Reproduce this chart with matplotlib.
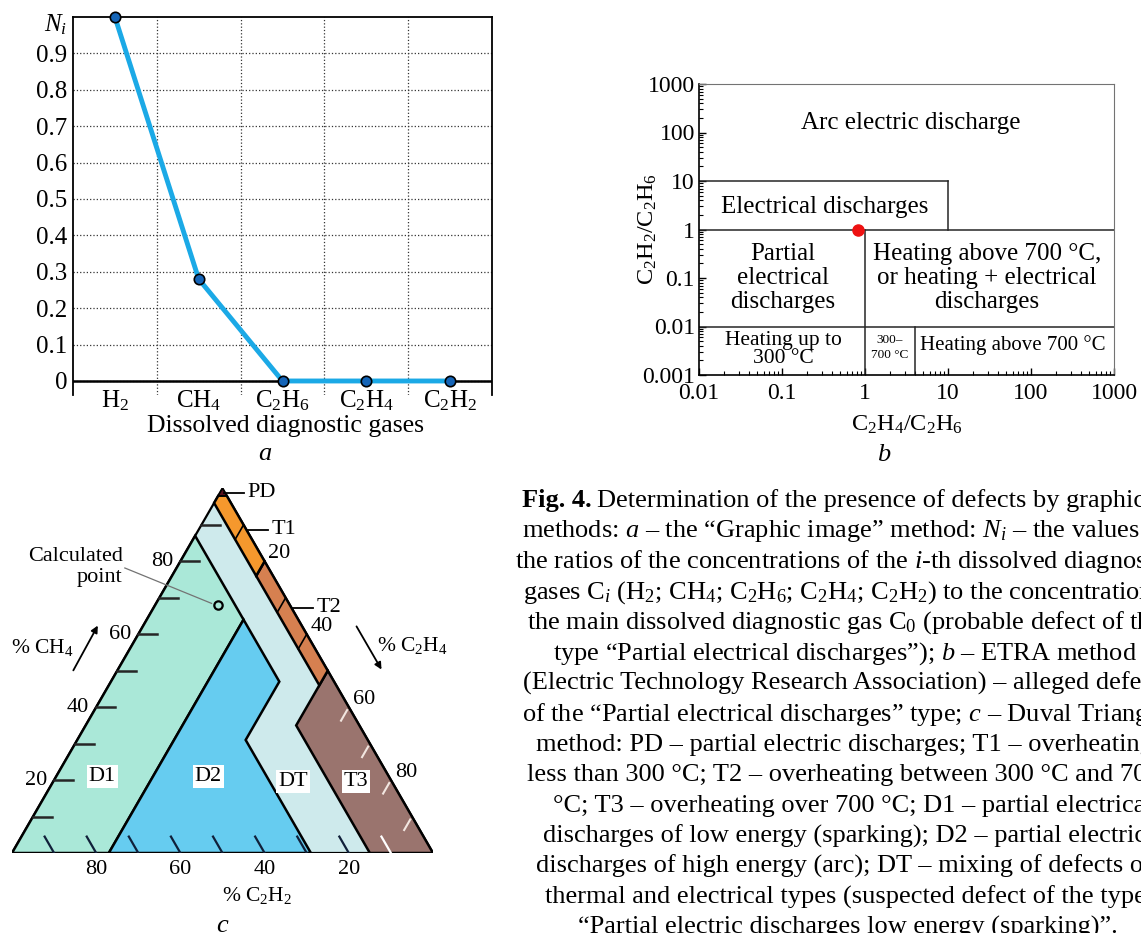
import numpy as np
import matplotlib.pyplot as plt

plt.rcParams['font.family'] = 'Liberation Serif'
plt.rcParams['mathtext.fontset'] = 'custom'
plt.rcParams['mathtext.rm'] = 'Liberation Serif'
plt.rcParams['mathtext.it'] = 'Liberation Serif:italic'
plt.rcParams['mathtext.bf'] = 'Liberation Serif:bold'

W, H = 1141, 933

# --- panel a data: "Graphic image" method
gases = ['H$_2$', 'CH$_4$', 'C$_2$H$_6$', 'C$_2$H$_4$', 'C$_2$H$_2$']
ni_values = [1.0, 0.28, 0.0, 0.0, 0.0]
ni_ticks = [0, 0.1, 0.2, 0.3, 0.4, 0.5, 0.6, 0.7, 0.8, 0.9]
ni_labels = ['0', '0.1', '0.2', '0.3', '0.4', '0.5', '0.6', '0.7', '0.8', '0.9']

# --- panel b data: ETRA method
etra_ticks = [0.001, 0.01, 0.1, 1, 10, 100, 1000]
etra_labels = ['0.001', '0.01', '0.1', '1', '10', '100', '1000']
etra_bounds = [
    ([0.01, 10], [10, 10]),
    ([10, 10], [10, 1]),
    ([0.01, 1000], [1, 1]),
    ([1, 1], [1, 0.001]),
    ([0.01, 1000], [0.01, 0.01]),
    ([4, 4], [0.01, 0.001]),
]
etra_point_x = [0.82]
etra_point_y = [1.0]

# --- panel c data: Duval triangle zones, vertices as (CH4, C2H4, C2H2) %
zone_pd = [(100, 0, 0), (98, 2, 0), (98, 0, 2)]
zone_t1 = [(98, 2, 0), (80, 20, 0), (76, 20, 4), (96, 0, 4), (98, 0, 2)]
zone_t2 = [(80, 20, 0), (50, 50, 0), (46, 50, 4), (76, 20, 4)]
zone_t3 = [(50, 50, 0), (0, 100, 0), (0, 85, 15), (35, 50, 15)]
zone_d1 = [(0, 0, 100), (0, 23, 77), (64, 23, 13), (87, 0, 13)]
zone_d2 = [(0, 23, 77), (0, 71, 29), (31, 40, 29), (47, 40, 13), (64, 23, 13)]
calc_point = (68, 15, 17)
scale_ticks = [10, 20, 30, 40, 50, 60, 70, 80, 90]
scale_labels = [20, 40, 60, 80]

caption_head = 'Fig. 4.'
caption = [
    r'Determination of the presence of defects by graphical',
    r'methods: $a$ – the “Graphic image” method: $N_i$ – the values of',
    r'the ratios of the concentrations of the $i$-th dissolved diagnostic',
    r'gases C$_i$ (H$_2$; CH$_4$; C$_2$H$_6$; C$_2$H$_4$; C$_2$H$_2$) to the concentration of',
    r'the main dissolved diagnostic gas C$_0$ (probable defect of the',
    r'type “Partial electrical discharges”); $b$ – ETRA method',
    r'(Electric Technology Research Association) – alleged defect',
    r'of the “Partial electrical discharges” type; $c$ – Duval Triangle',
    r'method: PD – partial electric discharges; T1 – overheating',
    r'less than 300 °C; T2 – overheating between 300 °C and 700',
    r'°C; T3 – overheating over 700 °C; D1 – partial electrical',
    r'discharges of low energy (sparking); D2 – partial electrical',
    r'discharges of high energy (arc); DT – mixing of defects of',
    r'thermal and electrical types (suspected defect of the type',
    r'“Partial electric discharges low energy (sparking)”.',
]
caption_x = [522, 522, 515, 523, 527, 553, 523, 522, 536, 527, 553, 543, 536, 545, 578]

fig = plt.figure(figsize=(W / 100, H / 100), dpi=100)

# ================= panel a
axa = fig.add_axes([73 / W, 1 - 395 / H, 419 / W, 378 / H])
xs = np.arange(len(gases))
axa.plot(xs, ni_values, color='#1BA9E6', lw=3.5, zorder=3, clip_on=False)
axa.plot(xs, ni_values, 'o', ms=7.5, mfc='#1565B8', mec='black', mew=1.2,
         zorder=4, clip_on=False)
axa.set_xlim(-0.5, 4.5)
axa.set_ylim(-0.0385, 1.0)
axa.set_yticks(ni_ticks)
axa.set_yticklabels(ni_labels)
axa.set_xticks(xs)
axa.set_xticklabels(gases)
axa.set_xticks(np.arange(0.5, 4, 1), minor=True)
axa.grid(which='minor', axis='x', color='0.2', ls=':', lw=0.9)
axa.grid(which='major', axis='y', color='0.2', ls=':', lw=0.9)
axa.tick_params(which='both', length=0, labelsize=18)
axa.tick_params(axis='y', pad=4)
axa.tick_params(axis='x', pad=-5)
axa.spines['bottom'].set_visible(False)
for s in ['left', 'right', 'top']:
    axa.spines[s].set_linewidth(1.3)
axa.axhline(0, color='black', lw=1.8, zorder=2)
axa.text(-0.014, 0.978, '$N_i$', transform=axa.get_yaxis_transform(),
         ha='right', va='center', fontsize=18)
axa.text(0.506, -0.081, 'Dissolved diagnostic gases', transform=axa.transAxes,
         ha='center', va='center', fontsize=18.5)
fig.text(265 / W, 1 - 454 / H, 'a', style='italic', ha='center', va='center', fontsize=19)

# ================= panel b
axb = fig.add_axes([699 / W, 1 - 375 / H, 415 / W, 291 / H])
axb.set_xscale('log')
axb.set_yscale('log')
axb.set_xlim(0.01, 1000)
axb.set_ylim(0.001, 1000)
for bx, by in etra_bounds:
    axb.plot(bx, by, color='0.15', lw=1.1)
axb.plot(etra_point_x, etra_point_y, 'o', color='#EE1111', ms=8, zorder=5, clip_on=False)
axb.set_xticks(etra_ticks[1:])
axb.set_xticklabels(etra_labels[1:])
axb.set_yticks(etra_ticks)
axb.set_yticklabels(etra_labels)
axb.tick_params(which='both', direction='in', top=False, right=False, labelsize=17)
axb.tick_params(which='major', length=5, width=1)
axb.tick_params(which='minor', length=3, width=0.8)
axb.tick_params(axis='x', pad=6)
axb.tick_params(axis='y', pad=3)
for s in ['top', 'right']:
    axb.spines[s].set_color('0.45')
for s in ['left', 'bottom']:
    axb.spines[s].set_linewidth(1.2)

axb.text(3.58, 157, 'Arc electric discharge', ha='center', va='center', fontsize=18)
axb.text(0.33, 2.91, 'Electrical discharges', ha='center', va='center', fontsize=18)
axb.text(0.103, 0.1, 'Partial\nelectrical\ndischarges', ha='center', va='center',
         fontsize=18, linespacing=1.1)
axb.text(29.5, 0.1, 'Heating above 700 °C,\nor heating + electrical\ndischarges',
         ha='center', va='center', fontsize=18, linespacing=1.1)
axb.text(0.103, 0.0034, 'Heating up to\n300 °C', ha='center', va='center',
         fontsize=15.5, linespacing=0.9)
axb.text(2.0, 0.0037, '300–\n700 °C', ha='center', va='center', fontsize=9.5,
         linespacing=1.4)
axb.text(60.7, 0.0042, 'Heating above 700 °C', ha='center', va='center', fontsize=15)
fig.text(648 / W, 1 - 229 / H, 'C$_2$H$_2$/C$_2$H$_6$', rotation=90, ha='center',
         va='center', fontsize=17.5)
fig.text(907 / W, 1 - 425 / H, 'C$_2$H$_4$/C$_2$H$_6$', ha='center', va='center',
         fontsize=17.5)
fig.text(884 / W, 1 - 455 / H, 'b', style='italic', ha='center', va='center', fontsize=19)

# ================= panel c : Duval triangle
R3 = np.sqrt(3) / 2


def tern(ch4, c2h4, c2h2):
    s = ch4 + c2h4 + c2h2
    return (c2h4 + ch4 / 2) / s * 100, ch4 * R3 / s * 100


def poly(ax, pts, fc, lw=1.8):
    p = np.array([tern(*v) for v in pts])
    ax.fill(p[:, 0], p[:, 1], fc=fc, ec='black', lw=lw, joinstyle='miter', zorder=2)


axc = fig.add_axes([12 / W, 1 - 853 / H, 421 / W, 364.6 / H])
axc.set_xlim(0, 100)
axc.set_ylim(0, 100 * R3)
axc.axis('off')

poly(axc, [(0, 0, 100), (0, 100, 0), (100, 0, 0)], '#CEEAEC', lw=1.6)
poly(axc, zone_d1, '#AAE8D8')
poly(axc, zone_d2, '#66CCF0')
poly(axc, zone_t3, '#9A746E')
poly(axc, zone_t2, '#D68050')
poly(axc, zone_t1, '#F5982D')
poly(axc, zone_pd, '#5A0F1E', lw=1)

tl = 4.5
for v in scale_ticks:
    # CH4 scale, left edge
    a = tern(v, 0, 100 - v)
    b = tern(v, tl, 100 - v - tl)
    axc.plot([a[0], b[0]], [a[1], b[1]], color='0.15', lw=1.8, zorder=3)
    # C2H2 scale, bottom edge
    a = tern(0, 100 - v, v)
    b = tern(tl, 100 - v - tl, v)
    col = 'white' if v < 15 else '#10203A'
    axc.plot([a[0], b[0]], [a[1], b[1]], color=col, lw=1.6, zorder=3)
    # C2H4 scale, right edge
    if v < 50:
        a = tern(100 - v, v, 0)
        b = tern(100 - v - 4, v, 4)
        axc.plot([a[0], b[0]], [a[1], b[1]], color='black', lw=1.2, zorder=3)
    elif v > 50:
        a = tern(100 - v - 0.8, v, 0.8)
        b = tern(100 - v - 3.7, v, 3.7)
        axc.plot([a[0], b[0]], [a[1], b[1]], color='#F2E6E0', lw=1.5, zorder=3)

fs_c = 16
for v in scale_labels:
    x, y = tern(v, 0, 100 - v)
    axc.text(x - 1.7, y, str(v), ha='right', va='center', fontsize=fs_c)
    x, y = tern(0, 100 - v, v)
    axc.text(x, -4.0, str(v), ha='center', va='center', fontsize=fs_c)
    x, y = tern(100 - v, v, 0)
    axc.text(x + 0.9, y + 1.8, str(v), ha='left', va='center', fontsize=fs_c)

# fault labels
box = dict(fc='white', ec='none', pad=1.5)
axc.text(21.4, 18.1, 'D1', ha='center', va='center', fontsize=fs_c, bbox=box, zorder=4)
axc.text(46.6, 18.1, 'D2', ha='center', va='center', fontsize=fs_c, bbox=box, zorder=4)
axc.text(66.7, 17.1, 'DT', ha='center', va='center', fontsize=fs_c, bbox=box, zorder=4)
axc.text(81.7, 17.1, 'T3', ha='center', va='center', fontsize=fs_c, bbox=box, zorder=4)

# leaders for PD, T1, T2
for name, ch4, yoff in [('PD', 100, -1.0), ('T1', 88.6, 0), ('T2', 67.2, 0)]:
    x, y = tern(ch4, 100 - ch4, 0)
    y = y + yoff
    axc.plot([x + 0.3, x + 5.2], [y, y], color='black', lw=1.3, clip_on=False, zorder=4)
    axc.text(x + 6.0, y, name, ha='left', va='center', fontsize=fs_c)

# calculated point
px, py = tern(*calc_point)
axc.plot([px], [py], 'o', ms=6, mfc='none', mec='black', mew=1.6, zorder=5)
axc.plot([26.8, px - 1.6], [67.7, py + 0.4], color='0.45', lw=0.9, zorder=4)
axc.text(26.3, 67.9, 'Calculated\npoint', ha='right', va='center', fontsize=fs_c,
         linespacing=1.15)

# axis names with arrows
axc.text(7.1, 48.7, '% CH$_4$', ha='center', va='center', fontsize=15.5)
axc.annotate('', xy=(20.7, 54.6), xytext=(14.25, 42.8),
             arrowprops=dict(arrowstyle='-|>', color='black', lw=1.3, mutation_scale=10))
axc.text(95.0, 49.4, '% C$_2$H$_4$', ha='center', va='center', fontsize=15.5)
axc.annotate('', xy=(88.1, 43.0), xytext=(81.5, 54.4),
             arrowprops=dict(arrowstyle='-|>', color='black', lw=1.3, mutation_scale=10))
axc.text(49.9, -10.0, '% C$_2$H$_2$', ha='left', va='center', fontsize=15.5)
axc.annotate('', xy=(34.7, -10.0), xytext=(48.7, -10.0),
             arrowprops=dict(arrowstyle='-|>', color='black', lw=1.6, mutation_scale=10))
fig.text(222 / W, 1 - 926 / H, 'c', style='italic', ha='center', va='center', fontsize=19)

# ================= caption
fs_cap = 19
head = fig.text(caption_x[0] / W, 1 - 507 / H, caption_head, ha='left',
                va='baseline', fontsize=fs_cap, weight='bold')
fig.canvas.draw()
hx = head.get_window_extent().x1 + 5
for i, line in enumerate(caption):
    x0 = hx if i == 0 else caption_x[i]
    fig.text(x0 / W, 1 - (507 + 30.5 * i) / H, line, ha='left',
             va='baseline', fontsize=fs_cap)

fig.savefig('out.png', dpi=100)
